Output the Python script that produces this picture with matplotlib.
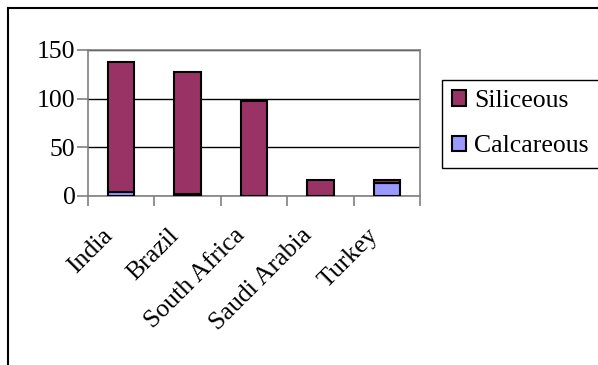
import numpy as np
import matplotlib
matplotlib.use("Agg")
from matplotlib import pyplot as plt
from matplotlib.lines import Line2D
from matplotlib.transforms import ScaledTranslation

countries = ["India", "Brazil", "South Africa", "Saudi Arabia", "Turkey"]
calcareous = [4, 2, 0, 0, 13]
siliceous = [134, 125, 98, 16, 3]
yticks = [0, 50, 100, 150]

plt.rcParams["font.family"] = ["Liberation Serif", "DejaVu Serif"]
plt.rcParams["font.size"] = 18.5

fig = plt.figure(figsize=(5.98, 3.65), dpi=100)
ax = fig.add_axes([88 / 598, 1 - 196 / 365, 332 / 598, 146 / 365])

x = np.arange(len(countries))
ax.bar(x, calcareous, width=0.4, color="#9999FF", edgecolor="black", linewidth=1.5,
       label="Calcareous", zorder=3)
ax.bar(x, siliceous, width=0.4, bottom=calcareous, color="#993366", edgecolor="black",
       linewidth=1.5, label="Siliceous", zorder=3)

ax.set_xlim(-0.5, len(countries) - 0.5)
ax.set_ylim(0, 150)
ax.set_yticks(yticks)
ax.yaxis.grid(True, color="black", linewidth=1)
ax.set_axisbelow(True)
for s in ax.spines.values():
    s.set_color("#808080")
    s.set_linewidth(1.2)

ax.tick_params(axis="y", length=8, width=1.2, color="#808080", pad=1)
ax.set_xticks(x)
ax.set_xticklabels(countries, rotation=45, ha="right", va="center", rotation_mode="anchor")
ax.set_xticks(np.arange(-0.5, len(countries)), minor=True)
ax.tick_params(axis="x", which="major", length=0, pad=0)
ax.tick_params(axis="x", which="minor", length=7, width=1.2, color="#808080")
shift = ScaledTranslation(-12 / 100, -36 / 100, fig.dpi_scale_trans)
for lbl in ax.get_xticklabels():
    lbl.set_transform(lbl.get_transform() + shift)

# legend lists Siliceous first
h, l = ax.get_legend_handles_labels()
leg = fig.legend(h[::-1], l[::-1], loc="upper left", bbox_to_anchor=(442 / 598, 1 - 80 / 365),
                 frameon=True, fancybox=False, edgecolor="black", framealpha=1,
                 handlelength=0.55, handleheight=0.55, handletextpad=0.3,
                 labelspacing=0.9, borderpad=0.4, borderaxespad=0)
leg.get_frame().set_linewidth(1)

# outer chart frame
fig.add_artist(Line2D([8 / 598, 8 / 598], [0, 1 - 8 / 365], color="black", linewidth=1.5,
                      transform=fig.transFigure))
fig.add_artist(Line2D([8 / 598, 1], [1 - 8 / 365, 1 - 8 / 365], color="black", linewidth=1.5,
                      transform=fig.transFigure))

fig.savefig("out.png", dpi=100)
